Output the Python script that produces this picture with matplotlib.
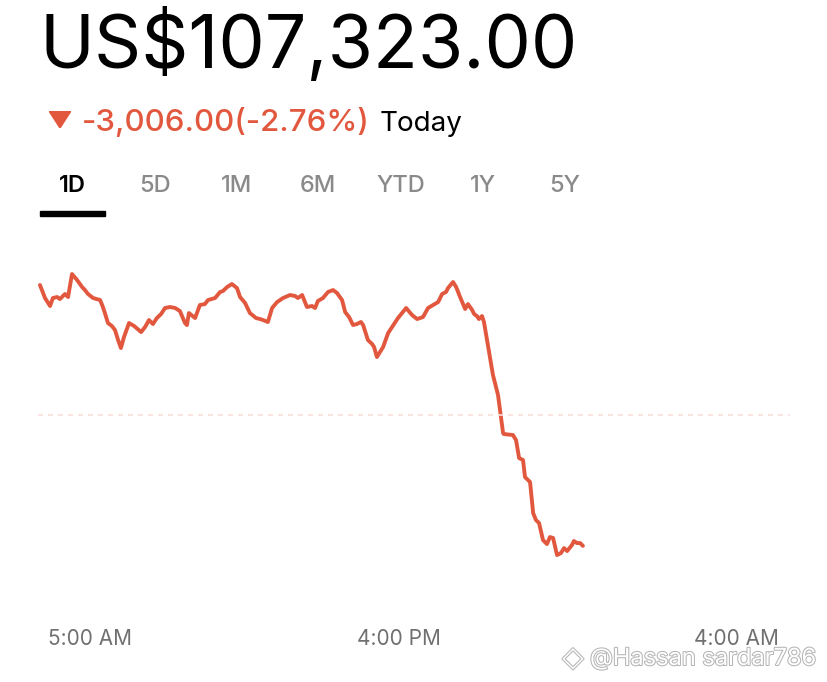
import matplotlib.pyplot as plt
import matplotlib.patheffects as pe

plt.rcParams['font.family'] = ['Inter', 'DejaVu Sans']

RED = '#E2583F'
GREY = '#8A8A8A'

# header values
price_text = "US$107,323.00"
change_text = "-3,006.00(-2.76%)"
prev_close = 110329

# range tabs
tabs = ["1D", "5D", "1M", "6M", "YTD", "1Y", "5Y"]

# intraday series: hour of day (past midnight = 24+) and price
hours = [3.22, 3.40, 3.58, 3.68, 3.83, 3.93, 4.11, 4.22, 4.36, 4.54, 4.72, 4.82, 4.93,
         5.11, 5.36, 5.46, 5.53, 5.64, 5.78, 5.89, 6.00, 6.10, 6.21, 6.39, 6.57, 6.82,
         6.96, 7.10, 7.24, 7.38, 7.53, 7.67, 7.85, 8.03, 8.20, 8.38, 8.45, 8.52, 8.74,
         8.91, 9.09, 9.20, 9.45, 9.63, 9.73, 9.88, 10.05, 10.23, 10.34, 10.52, 10.69,
         10.91, 11.05, 11.16, 11.33, 11.48, 11.66, 11.87, 12.12, 12.30, 12.40, 12.55,
         12.72, 12.90, 13.01, 13.11, 13.29, 13.47, 13.65, 13.79, 13.97, 14.08, 14.22,
         14.36, 14.50, 14.64, 14.72, 14.89, 15.04, 15.11, 15.21, 15.32, 15.43, 15.61,
         15.75, 15.96, 16.25, 16.46, 16.64, 16.85, 17.03, 17.21, 17.39, 17.53, 17.67,
         17.74, 17.92, 18.03, 18.17, 18.35, 18.45, 18.60, 18.67, 18.77, 18.84, 18.95,
         19.02, 19.16, 19.34, 19.52, 19.70, 19.73, 20.05, 20.16, 20.27, 20.41, 20.48,
         20.66, 20.77, 20.87, 20.98, 21.12, 21.26, 21.37, 21.48, 21.62, 21.76, 21.87,
         21.98, 22.15, 22.22, 22.33, 22.44, 22.54]
prices = [113303, 113005, 112822, 113005, 113028, 112982, 113097, 113028, 113555, 113418,
          113257, 113188, 113097, 113005, 112959, 112799, 112661, 112432, 112363, 112271,
          112042, 111858, 112111, 112432, 112363, 112225, 112340, 112500, 112409, 112546,
          112638, 112776, 112799, 112776, 112707, 112432, 112386, 112661, 112546, 112844,
          112867, 112959, 113005, 113143, 113165, 113257, 113326, 113234, 113028, 112890,
          112661, 112546, 112523, 112500, 112455, 112776, 112913, 113005, 113074, 113051,
          113005, 113074, 112799, 112822, 112776, 112936, 113005, 113143, 113188, 113120,
          112959, 112684, 112569, 112386, 112409, 112455, 112386, 112042, 111950, 111881,
          111652, 111767, 111881, 112202, 112340, 112546, 112776, 112615, 112523, 112569,
          112776, 112844, 112913, 113097, 113143, 113234, 113372, 113257, 113028, 112753,
          112867, 112730, 112638, 112592, 112523, 112592, 112455, 111927, 111239, 110781,
          109909, 109886, 109864, 109749, 109336, 109290, 108900, 108786, 108075, 107914,
          107846, 107456, 107364, 107525, 107502, 107112, 107158, 107272, 107204, 107341,
          107433, 107387, 107387, 107323]

tick_hours = [5, 16, 28]
tick_labels = ["5:00 AM", "4:00 PM", "4:00 AM"]

W, H = 828, 682
fig = plt.figure(figsize=(W / 100, H / 100), dpi=100)

# header
fig.text(40 / W, 1 - 68 / H, price_text, fontsize=53, color='black', va='baseline', ha='left')
fig.text(82 / W, 1 - 131 / H, change_text, fontsize=22.5, color=RED, fontweight='medium',
         va='baseline', ha='left')
fig.text(380 / W, 1 - 131 / H, "Today", fontsize=20, color='black', va='baseline', ha='left')
tri = fig.add_axes([49 / W, 1 - 128 / H, 22 / W, 17 / H])
tri.fill([0, 1, 0.5], [1, 1, 0], color=RED)
tri.set_xlim(0, 1)
tri.set_ylim(0, 1)
tri.axis('off')

# tabs
tab_x = [72, 155, 237, 318, 401, 483, 565]
for i in range(len(tabs)):
    fig.text(tab_x[i] / W, 1 - 192 / H, tabs[i], fontsize=17, ha='center', va='baseline',
             color='black' if i == 0 else GREY, fontweight='semibold' if i == 0 else 'medium')
fig.add_artist(plt.Rectangle((40 / W, 1 - 216 / H), 65 / W, 5 / H, color='black',
                             transform=fig.transFigure))

# chart
ax = fig.add_axes([38 / W, 1 - 580 / H, 752 / W, 330 / H])
ax.plot(hours, prices, color=RED, lw=2.8, solid_joinstyle='round', solid_capstyle='round')
ax.axhline(prev_close, color='#F9DEDA', lw=1.2, dashes=(3, 3))
ax.set_xlim(3.15, 29.91)
ax.set_ylim(106540, 114106)
ax.set_yticks([])
ax.set_xticks(tick_hours)
ax.set_xticklabels(tick_labels, fontsize=15, color='#707070')
ax.tick_params(axis='x', length=0, pad=35)
for s in ax.spines.values():
    s.set_visible(False)

# watermark
wm = fig.text(590 / W, 1 - 665 / H, "@Hassan sardar786", fontsize=17, color='white',
              ha='left', va='baseline')
wm.set_path_effects([pe.withStroke(linewidth=1.5, foreground='#B5B5B5')])
fig.text(573 / W, 1 - 666 / H, "◇", fontsize=20, color='white', ha='center', va='baseline',
         family=['DejaVu Sans'],
         path_effects=[pe.withStroke(linewidth=1.5, foreground='#B5B5B5')])

fig.savefig('out.png', dpi=100)
